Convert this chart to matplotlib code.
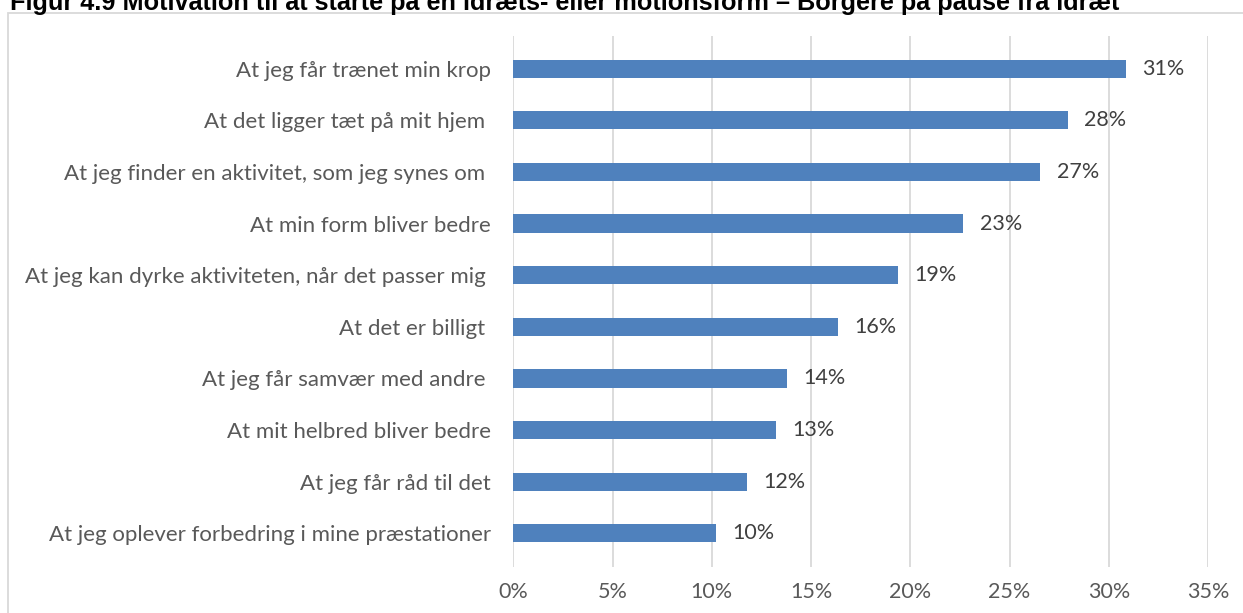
import matplotlib
matplotlib.use("Agg")
import matplotlib.pyplot as plt
from matplotlib.patches import Rectangle

# data (top to bottom)
categories = [
    "At jeg får trænet min krop",
    "At det ligger tæt på mit hjem ",
    "At jeg finder en aktivitet, som jeg synes om ",
    "At min form bliver bedre",
    "At jeg kan dyrke aktiviteten, når det passer mig ",
    "At det er billigt ",
    "At jeg får samvær med andre ",
    "At mit helbred bliver bedre",
    "At jeg får råd til det",
    "At jeg oplever forbedring i mine præstationer",
]
values = [30.85, 27.93, 26.55, 22.65, 19.37, 16.34, 13.79, 13.22, 11.75, 10.2]
value_labels = ["31%", "28%", "27%", "23%", "19%", "16%", "14%", "13%", "12%", "10%"]
x_ticks = [0, 5, 10, 15, 20, 25, 30, 35]

title = "Figur 4.9 Motivation til at starte på en idræts- eller motionsform – Borgere på pause fra idræt"

W, H = 1243, 613
fig = plt.figure(figsize=(W / 100, H / 100), dpi=100)

# chart border (light grey frame, cut off at right and bottom)
fig.patches.append(Rectangle((8 / W, -0.05), 1.1, 1.05 - 13.3 / H,
                             transform=fig.transFigure, fill=False,
                             edgecolor="#d9d9d9", linewidth=1.3))

# title is cut off at the top in the original picture
fig.text(10 / W, 1 - 10 / H, title, fontsize=18.2, fontweight="bold",
         family="Liberation Sans", color="black", ha="left", va="baseline")

ax = fig.add_axes([513.4 / W, 1 - 567 / H, (1208 - 513.4) / W, (567 - 36) / H])

ypos = list(range(len(categories)))
ax.barh(ypos, values, height=0.35, color="#4f81bd", zorder=3)

for y, v, lab in zip(ypos, values, value_labels):
    ax.annotate(lab, (v, y), xytext=(12, 0), textcoords="offset points",
                va="center", ha="left", fontsize=15.5, family="Lato", color="#404040")

ax.set_xlim(0, 35)
ax.set_ylim(len(categories) - 1 + 0.65, -0.63)
ax.set_xticks(x_ticks)
ax.set_xticklabels([f"{t}%" for t in x_ticks], fontsize=15.5, family="Lato", color="#595959")
ax.set_yticks(ypos)
ax.set_yticklabels(categories, fontsize=16, family="Lato", color="#595959")
ax.tick_params(axis="both", length=0)
ax.tick_params(axis="y", pad=16)
ax.tick_params(axis="x", pad=11)
ax.grid(axis="x", color="#d9d9d9", linewidth=1.3, zorder=0)
for s in ax.spines.values():
    s.set_visible(False)

fig.savefig("out.png", dpi=100)
